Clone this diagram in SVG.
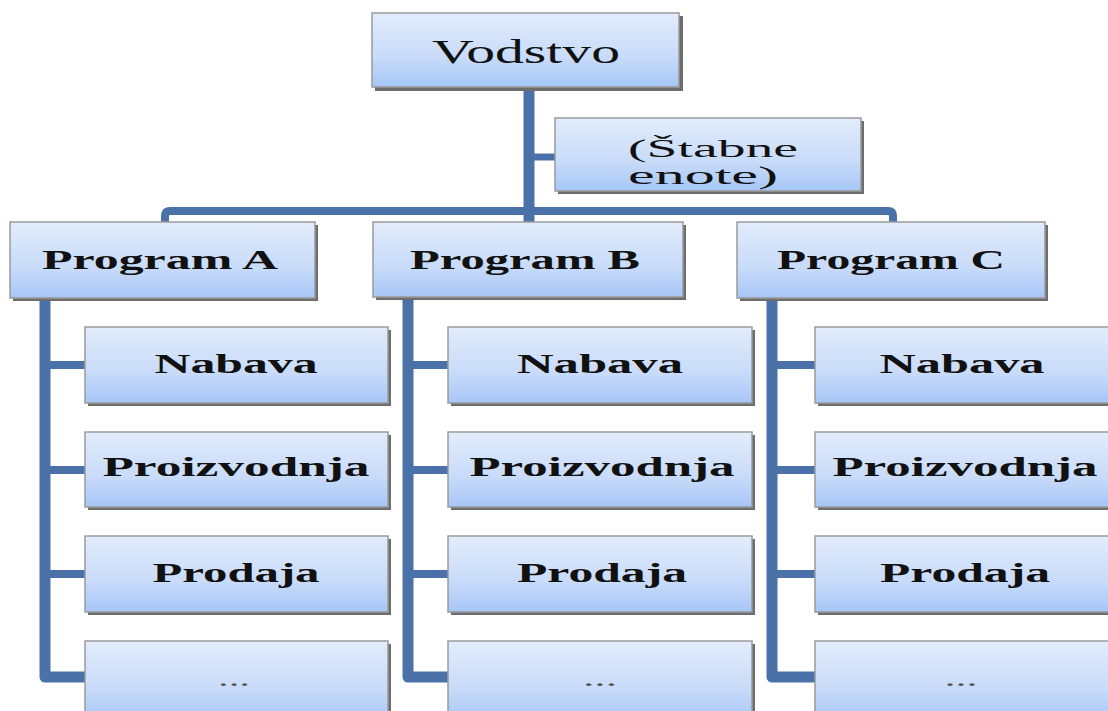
<svg xmlns="http://www.w3.org/2000/svg" width="1108" height="711" viewBox="0 0 1108 711">
<defs>
<linearGradient id="g" x1="0" y1="0" x2="0" y2="1">
<stop offset="0" stop-color="#e2ecfc"/>
<stop offset="0.6" stop-color="#c8dbf9"/>
<stop offset="1" stop-color="#a6c6f7"/>
</linearGradient>
</defs>
<style>
.sh{fill:#6d6d6d}
.bx{fill:url(#g);stroke:#9a9a9a;stroke-width:1.5}
.t{font-family:"Liberation Serif","Times New Roman",serif;fill:#111;text-anchor:middle}
.b{font-weight:bold}
.d{fill:#555}
.ln{fill:none;stroke:#4a72a8;stroke-linejoin:round;stroke-linecap:butt}
</style>
<rect width="1108" height="711" fill="#fff"/>
<g id="connectors">
<path class="ln" d="M529,88 V222" stroke-width="11"/>
<path class="ln" d="M529,157 H557" stroke-width="7"/>
<path class="ln" d="M165,222 V216 Q165,211 170,211 H888 Q893,211 893,216 V222" stroke-width="8"/>
<path class="ln" d="M45,299 V677 H87" stroke-width="11"/>
<path class="ln" d="M45,365 H87 M45,470 H87 M45,574 H87" stroke-width="8"/>
<path class="ln" d="M408,297 V677 H450" stroke-width="11"/>
<path class="ln" d="M408,365 H450 M408,470 H450 M408,574 H450" stroke-width="8"/>
<path class="ln" d="M772,298 V677 H817" stroke-width="11"/>
<path class="ln" d="M772,365 H817 M772,470 H817 M772,574 H817" stroke-width="8"/>
</g>
<g id="vodstvo">
<rect class="sh" x="375" y="16" width="308" height="75"/>
<rect class="bx" x="372" y="13" width="307" height="74"/>
<text class="t" x="526" y="63" font-size="33" textLength="188" lengthAdjust="spacingAndGlyphs">Vodstvo</text>
</g>
<g id="stabne">
<rect class="sh" x="558" y="121" width="306" height="73"/>
<rect class="bx" x="555" y="118" width="306" height="73"/>
<text class="t" x="713" y="157" font-size="25" textLength="170" lengthAdjust="spacingAndGlyphs">(Štabne</text>
<text class="t" x="703" y="184" font-size="25" textLength="150" lengthAdjust="spacingAndGlyphs">enote)</text>
</g>
<g id="progA">
<rect class="sh" x="13" y="225" width="305" height="76"/>
<rect class="bx" x="10" y="222" width="305" height="76"/>
<text class="t b" x="160" y="269" font-size="27" textLength="236" lengthAdjust="spacingAndGlyphs">Program A</text>
</g>
<g id="progB">
<rect class="sh" x="376" y="225" width="310" height="75"/>
<rect class="bx" x="373" y="222" width="310" height="75"/>
<text class="t b" x="525" y="269" font-size="27" textLength="230" lengthAdjust="spacingAndGlyphs">Program B</text>
</g>
<g id="progC">
<rect class="sh" x="740" y="225" width="308" height="76"/>
<rect class="bx" x="737" y="222" width="308" height="76"/>
<text class="t b" x="891" y="269" font-size="27" textLength="228" lengthAdjust="spacingAndGlyphs">Program C</text>
</g>
<g id="a-nabava"><rect class="sh" x="88" y="330" width="303" height="76"/><rect class="bx" x="85" y="327" width="303" height="76"/><text class="t b" x="236" y="373" font-size="27" textLength="163" lengthAdjust="spacingAndGlyphs">Nabava</text></g>
<g id="a-proizvodnja"><rect class="sh" x="88" y="435" width="303" height="75"/><rect class="bx" x="85" y="432" width="303" height="75"/><text class="t b" x="236" y="476" font-size="27" textLength="267" lengthAdjust="spacingAndGlyphs">Proizvodnja</text></g>
<g id="a-prodaja"><rect class="sh" x="88" y="539" width="303" height="76"/><rect class="bx" x="85" y="536" width="303" height="76"/><text class="t b" x="236" y="582" font-size="27" textLength="167" lengthAdjust="spacingAndGlyphs">Prodaja</text></g>
<g id="a-more"><rect class="sh" x="88" y="644" width="303" height="80"/><rect class="bx" x="85" y="641" width="303" height="80"/><text class="t d" x="234" y="686" font-size="24" textLength="32" lengthAdjust="spacingAndGlyphs">...</text></g>
<g id="b-nabava"><rect class="sh" x="451" y="330" width="304" height="76"/><rect class="bx" x="448" y="327" width="304" height="76"/><text class="t b" x="600" y="373" font-size="27" textLength="166" lengthAdjust="spacingAndGlyphs">Nabava</text></g>
<g id="b-proizvodnja"><rect class="sh" x="451" y="435" width="304" height="75"/><rect class="bx" x="448" y="432" width="304" height="75"/><text class="t b" x="602" y="476" font-size="27" textLength="265" lengthAdjust="spacingAndGlyphs">Proizvodnja</text></g>
<g id="b-prodaja"><rect class="sh" x="451" y="539" width="304" height="76"/><rect class="bx" x="448" y="536" width="304" height="76"/><text class="t b" x="602" y="582" font-size="27" textLength="170" lengthAdjust="spacingAndGlyphs">Prodaja</text></g>
<g id="b-more"><rect class="sh" x="451" y="644" width="304" height="80"/><rect class="bx" x="448" y="641" width="304" height="80"/><text class="t d" x="600" y="686" font-size="24" textLength="34" lengthAdjust="spacingAndGlyphs">...</text></g>
<g id="c-nabava"><rect class="sh" x="818" y="330" width="303" height="76"/><rect class="bx" x="815" y="327" width="303" height="76"/><text class="t b" x="962" y="373" font-size="27" textLength="165" lengthAdjust="spacingAndGlyphs">Nabava</text></g>
<g id="c-proizvodnja"><rect class="sh" x="818" y="435" width="303" height="75"/><rect class="bx" x="815" y="432" width="303" height="75"/><text class="t b" x="965" y="476" font-size="27" textLength="265" lengthAdjust="spacingAndGlyphs">Proizvodnja</text></g>
<g id="c-prodaja"><rect class="sh" x="818" y="539" width="303" height="76"/><rect class="bx" x="815" y="536" width="303" height="76"/><text class="t b" x="965" y="582" font-size="27" textLength="170" lengthAdjust="spacingAndGlyphs">Prodaja</text></g>
<g id="c-more"><rect class="sh" x="818" y="644" width="303" height="80"/><rect class="bx" x="815" y="641" width="303" height="80"/><text class="t d" x="961" y="686" font-size="24" textLength="33" lengthAdjust="spacingAndGlyphs">...</text></g>
</svg>
